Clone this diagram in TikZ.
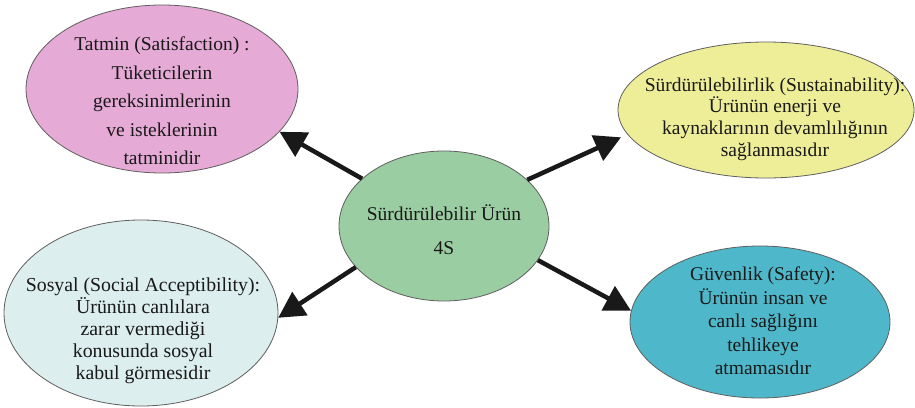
\documentclass[tikz,border=0pt]{standalone}
\usepackage{fontspec}
\setmainfont{Liberation Serif}
\usetikzlibrary{shapes.geometric,arrows.meta}
\definecolor{pinkfill}{RGB}{230,170,214}
\definecolor{yellowfill}{RGB}{238,238,152}
\definecolor{greenfill}{RGB}{155,205,162}
\definecolor{cyanfill}{RGB}{220,238,238}
\definecolor{tealfill}{RGB}{78,184,202}
\definecolor{bordergray}{RGB}{95,95,95}
\definecolor{textgray}{RGB}{25,25,25}
\begin{document}
\begin{tikzpicture}[x=1pt,y=-1pt,
  bubble/.style={ellipse,draw=bordergray,line width=0.8pt,inner sep=0pt},
  txt/.style={align=center,text=textgray,inner sep=0pt},
  arr/.style={line width=4.5pt,draw=black!90,-{Triangle[length=26pt,width=27pt]}}]
\useasboundingbox[fill=white] (0,0) rectangle (915,407);
% ellipses
\node[bubble,fill=pinkfill,minimum width=272pt,minimum height=168pt] (tl) at (162,89) {};
\node[bubble,fill=yellowfill,minimum width=296pt,minimum height=136pt] (tr) at (766,110) {};
\node[bubble,fill=greenfill,minimum width=210pt,minimum height=150pt] (c) at (444,226) {};
\node[bubble,fill=cyanfill,minimum width=274pt,minimum height=186pt] (bl) at (141,313) {};
\node[bubble,fill=tealfill,minimum width=260pt,minimum height=152pt] (br) at (760,322) {};
% texts
\node[txt,font=\fontsize{19.5}{28.5}\selectfont] (tlt) at (162,101) {Tatmin (Satisfaction) :\\Tüketicilerin\\gereksinimlerinin\\ve isteklerinin\\tatminidir};
\node[txt,font=\fontsize{19.5}{21.7}\selectfont] (trt) at (775,119) {Sürdürülebilirlik (Sustainability):\\Ürünün enerji ve\\kaynaklarının devamlılığının\\sağlanmasıdır};
\node[txt,font=\fontsize{19.5}{34}\selectfont] (ct) at (444,230) {Sürdürülebilir Ürün\\4S};
\node[txt,font=\fontsize{19.8}{22}\selectfont] (blt) at (143,331) {Sosyal (Social Acceptibility):\\Ürünün canlılara\\zarar vermediği\\konusunda sosyal\\kabul görmesidir};
\node[txt,font=\fontsize{19.5}{23.5}\selectfont] (brt) at (763,321) {Güvenlik (Safety):\\Ürünün insan ve\\canlı sağlığını\\tehlikeye\\atmamasıdır};
% arrows
\draw[arr] (c.150) -- (tl.-20);
\draw[arr,shorten >=7pt] (c.29) -- (tr.190);
\draw[arr] (c.205) -- (bl.-2);
\draw[arr] (c.-20) -- (br.175);
\end{tikzpicture}
\end{document}
